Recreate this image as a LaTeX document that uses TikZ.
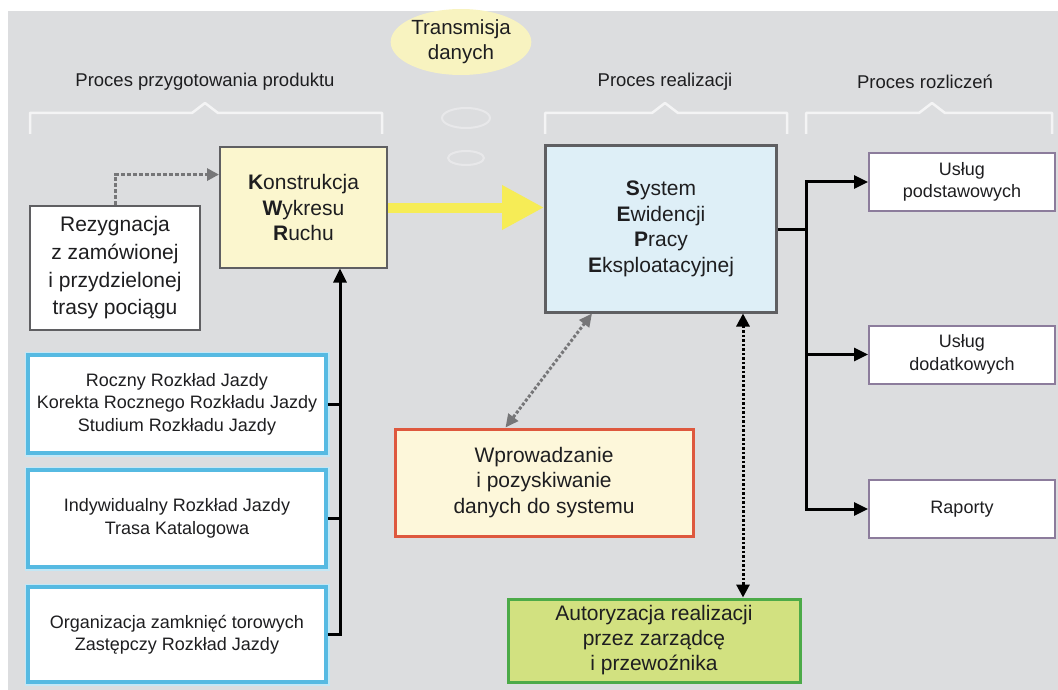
\documentclass[tikz,border=0pt]{standalone}
\usepackage{fontspec}
\setmainfont{Liberation Sans}
\usetikzlibrary{arrows.meta,positioning,shapes.geometric,calc}
\definecolor{svBack} {RGB}{220,221,223}
\definecolor{svInk}  {RGB}{ 30, 30, 32}
\definecolor{svFrame}{RGB}{ 95, 95, 98}
\definecolor{svKwr}  {RGB}{251,246,206}
\definecolor{svSepe} {RGB}{222,239,247}
\definecolor{svCyan} {RGB}{ 86,186,226}
\definecolor{svLila} {RGB}{140,124,156}
\definecolor{svRed}  {RGB}{222, 88, 62}
\definecolor{svCream}{RGB}{253,247,218}
\definecolor{svLeaf} {RGB}{ 76,170, 72}
\definecolor{svLime} {RGB}{210,225,128}
\definecolor{svSun}  {RGB}{246,236, 86}
\definecolor{svOval} {RGB}{248,243,192}
\definecolor{svDots} {RGB}{118,118,120}

\begin{document}
\begin{tikzpicture}[x=1pt,y=-1pt,
  box/.style={draw,rectangle,inner sep=0pt,align=center,text=svInk,
              font=\fontsize{21}{25.5}\selectfont},
  smallbox/.style={box,font=\fontsize{18}{22.5}\selectfont},
  head/.style={text=svInk,font=\fontsize{18.5}{22}\selectfont},
  brace/.style={draw=white,line width=2.5pt,opacity=0.7,line join=round},
  blk/.style={draw=black,line width=3pt},
  blkarrow/.style={blk,-{Triangle[length=14pt,width=13pt]}}]
\useasboundingbox (0,0) rectangle (1058,690);
\fill[svBack] (8,11) rectangle (1058,690);

% headers and their braces
\node[head] (hd1) at (205,82) {Proces przygotowania produktu};
\node[head] (hd2) at (665,82) {Proces realizacji};
\node[head] (hd3) at (925,82) {Proces rozliczeń};
\draw[brace] (30,134) -- (30,113) -- (192,113) -- (205,103) -- (218,113)
  -- (382,113) -- (382,134);
\draw[brace] (545,134) -- (545,113) -- (652,113) -- (665,103) -- (678,113)
  -- (787,113) -- (787,134);
\draw[brace] (806,134) -- (806,113) -- (919,113) -- (932,103) -- (945,113)
  -- (1052,113) -- (1052,134);

% data transmission bubble
\node[ellipse,fill=svOval,inner sep=0pt,minimum width=112pt,minimum height=66pt,
  align=center,text=svInk,font=\fontsize{20.5}{25}\selectfont]
  (trans) at (461,42) {Transmisja\\danych};
\draw[white,line width=2pt,opacity=0.35] (466,118) ellipse [x radius=24pt,y radius=10pt];
\draw[white,line width=2pt,opacity=0.35] (466,158) ellipse [x radius=18pt,y radius=7pt];

% boxes
\node[box,draw=svFrame,line width=2pt,fill=svKwr,minimum width=167pt,
  minimum height=120pt] (kwr) at (303.5,207.5)
  {\textbf{K}onstrukcja\\\textbf{W}ykresu\\\textbf{R}uchu};
\node[box,draw=svFrame,line width=2.5pt,fill=white,minimum width=170pt,
  minimum height=124pt,font=\fontsize{21}{27.7}\selectfont] (rez) at (115,268)
  {Rezygnacja\\z zamówionej\\i przydzielonej\\trasy pociągu};
\node[box,draw=svFrame,line width=3pt,fill=svSepe,minimum width=231pt,
  minimum height=166pt] (sepe) at (661,229)
  {\textbf{S}ystem\\\textbf{E}widencji\\\textbf{P}racy\\\textbf{E}ksploatacyjnej};

\foreach \nm/\cy/\hgt/\txt in {
   rz1/404/98/{Roczny Rozkład Jazdy\\Korekta Rocznego Rozkładu Jazdy\\Studium Rozkładu Jazdy},
   rz2/518.5/97/{Indywidualny Rozkład Jazdy\\Trasa Katalogowa},
   rz3/634.5/95/{Organizacja zamknięć torowych\\Zastępczy Rozkład Jazdy}}{
  \node[smallbox,draw=svCyan,line width=3.5pt,fill=white,
    preaction={draw=svCyan!35,line width=7pt},
    minimum width=298pt,minimum height=\hgt pt] (\nm) at (177,\cy) {\txt};
}

\foreach \nm/\cy/\txt in {
   usp/182/{Usług\\podstawowych},
   dod/354.5/{Usług\\dodatkowych},
   rap/509/{Raporty}}{
  \node[smallbox,draw=svLila,line width=2pt,fill=white,
    minimum width=186pt,minimum height=58pt] (\nm) at (962,\cy) {\txt};
}

\node[box,draw=svRed,line width=3pt,fill=svCream,minimum width=298pt,
  minimum height=107pt] (wpr) at (544,482.5)
  {Wprowadzanie\\i pozyskiwanie\\danych do systemu};
\node[box,draw=svLeaf,line width=3pt,fill=svLime,minimum width=292pt,
  minimum height=83pt,font=\fontsize{21}{25}\selectfont] (aut) at (654,640.5)
  {Autoryzacja realizacji\\przez zarządcę\\i przewoźnika};

% connectors
\draw[svSun,line width=10pt,-{Triangle[length=42pt,width=42pt]}]
  (kwr.east) -- (kwr.east -| sepe.west);
\draw[svDots,line width=3pt,dash pattern=on 4pt off 2pt,
  -{Triangle[length=12pt,width=12pt]}]
  (rez.north) |- ($(kwr.north west)!0.23!(kwr.south west)$);

\coordinate (kin) at ($(kwr.south)+(36.5,0)$);
\draw[blk] (rz1.east) -- (rz1.east -| kin);
\draw[blk] (rz2.east) -- (rz2.east -| kin);
\draw[blkarrow] (rz3.east) -| (kin);

\coordinate (split) at ($(sepe.east)+(28,0)$);
\draw[blk] (sepe.east) -- (split);
\draw[blkarrow] (split) |- (usp.west);
\draw[blkarrow] (split) |- (dod.west);
\draw[blkarrow] (split) |- (rap.west);

\draw[svDots,line width=3pt,dash pattern=on 3pt off 2pt,
  {Triangle[length=13pt,width=12pt]}-{Triangle[length=13pt,width=12pt]}]
  ($(sepe.south west)+(48,0)$) -- ($(wpr.north west)+(112,0)$);
\coordinate (sdn) at ($(sepe.south east)+(-35,0)$);
\draw[black,line width=3pt,dash pattern=on 2.5pt off 2pt,
  {Triangle[length=13pt,width=13pt]}-{Triangle[length=13pt,width=13pt]}]
  (sdn) -- (sdn |- aut.north);
\end{tikzpicture}
\end{document}
